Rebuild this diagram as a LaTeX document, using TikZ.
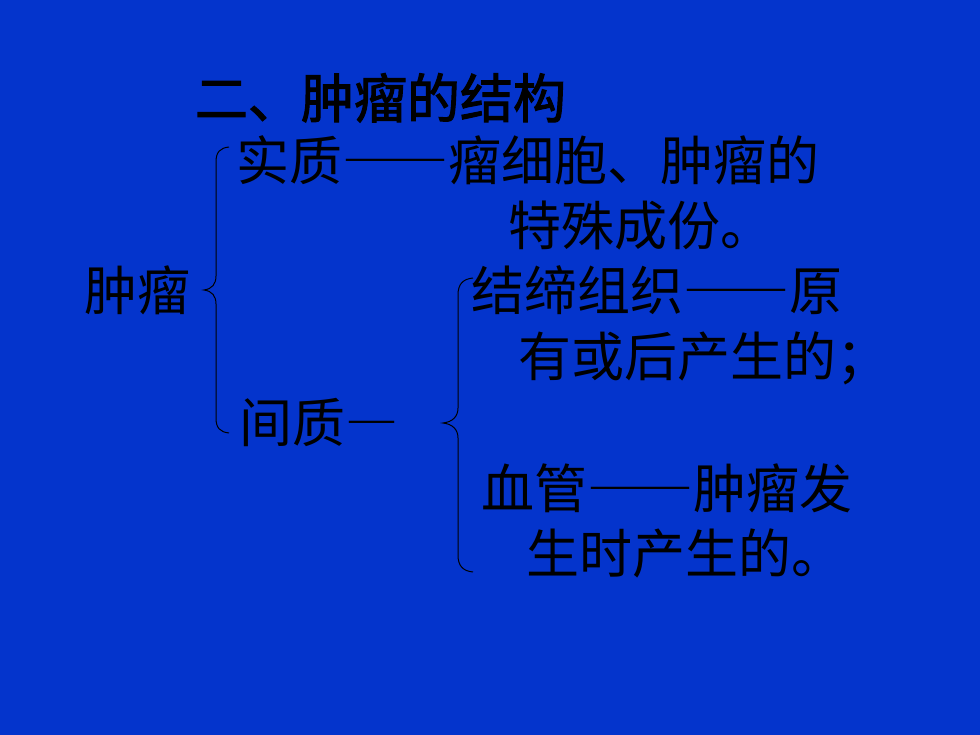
\documentclass[tikz,border=0pt]{standalone}
\usepackage{fontspec}
\newfontfamily\cjk{Noto Sans CJK SC}
\newfontfamily\cjkfw{Noto Sans CJK SC}[RawFeature=+fwid]
\newfontfamily\cjkbold{Noto Sans CJK SC}[FakeBold=2]
\newcommand{\fwd}[1]{{\cjkfw #1}}
\definecolor{slidebg}{RGB}{4,52,204}
\tikzset{
  txt/.style={anchor=base west, inner sep=0pt, outer sep=0pt, text=black, font=\cjk\fontsize{53}{60}\selectfont},
  ttl/.style={anchor=base west, inner sep=0pt, outer sep=0pt, text=black, font=\cjkbold\fontsize{53}{60}\selectfont},
  brace/.style={draw=black, line width=1pt}
}
\begin{document}
\begin{tikzpicture}[x=1pt,y=-1pt]
\fill[slidebg] (0,0) rectangle (980,735);
\useasboundingbox (0,0) rectangle (980,735);
\node[ttl] (title) at (195,118) {二、肿瘤的结构};
\node[txt] (sz) at (236,181) {实质\fwd{——}瘤细胞、肿瘤的};
\node[txt] (sz2) at (508,246) {特殊成份。};
\node[txt] (zl) at (84,311) {肿瘤};
\node[txt] (jd) at (471,311) {结缔组织\fwd{——}原};
\node[txt] (jd2) at (518,377) {有或后产生的；};
\node[txt] (jz) at (239,442) {间质\fwd{—}};
\node[txt] (xg) at (481,508) {血管\fwd{——}肿瘤发};
\node[txt] (xg2) at (526,573) {生时产生的。};
% big brace
\coordinate (b1t) at (229,147);
\coordinate (b1m) at (204,290);
\coordinate (b1b) at (229,433);
\draw[brace] (b1t) .. controls (220,148) and (216,152) .. (216,162)
  -- (216,276) .. controls (216,284) and (212,289) .. (b1m)
  .. controls (212,291) and (216,296) .. (216,304)
  -- (216,418) .. controls (216,428) and (220,432) .. (b1b);
% small brace
\coordinate (b2t) at (473,278);
\coordinate (b2m) at (443,423);
\coordinate (b2b) at (473,572);
\draw[brace] (b2t) .. controls (463,279) and (458,284) .. (458,295)
  -- (458,408) .. controls (458,417) and (452,422) .. (b2m)
  .. controls (452,424) and (458,429) .. (458,438)
  -- (458,555) .. controls (458,566) and (463,571) .. (b2b);
\end{tikzpicture}
\end{document}
